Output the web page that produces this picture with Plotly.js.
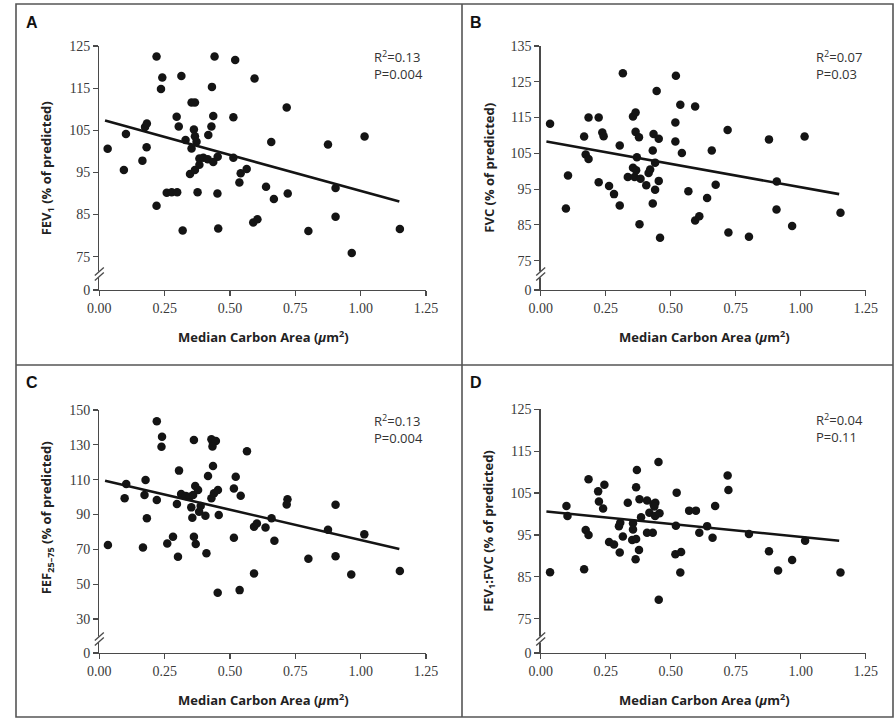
<!DOCTYPE html>
<html>
<head>
<meta charset="utf-8">
<script src="https://cdn.plot.ly/plotly-3.0.1.min.js"></script>
<style>html,body{margin:0;padding:0;background:#fff;}#chart{width:896px;height:719px;}</style>
</head>
<body>
<div id="chart"></div>
<script>
// ---------- DATA ----------
const carbonA = [0.032,0.094,0.102,0.165,0.175,0.182,0.181,0.219,0.219,0.241,0.236,0.258,0.277,0.298,0.314,0.296,0.304,0.319,0.330,0.353,0.366,0.362,0.366,0.372,0.353,0.347,0.366,0.383,0.383,0.398,0.415,0.417,0.429,0.436,0.431,0.441,0.436,0.453,0.376,0.452,0.455,0.520,0.513,0.513,0.536,0.541,0.564,0.594,0.589,0.605,0.717,0.658,0.875,1.015,0.638,0.668,0.721,0.904,0.904,0.800,1.150,0.966];
const fev1 = [100.6,95.6,104.1,97.8,105.8,106.6,101.0,122.5,87.1,117.5,114.8,90.2,90.3,90.3,117.9,108.2,105.9,81.2,102.7,111.6,111.6,105.2,103.6,102.3,100.7,94.6,95.6,96.8,98.3,98.5,98.1,103.9,105.9,108.4,115.3,122.5,97.5,98.7,90.3,90.0,81.7,121.7,108.1,98.5,92.6,94.8,95.8,117.3,83.1,83.9,110.4,102.2,101.6,103.5,91.6,88.7,90.0,91.3,84.5,81.1,81.6,75.9];

const carbonB = [0.036,0.105,0.097,0.167,0.184,0.173,0.184,0.223,0.237,0.242,0.223,0.263,0.282,0.304,0.304,0.316,0.335,0.355,0.361,0.367,0.370,0.355,0.365,0.365,0.378,0.380,0.384,0.406,0.415,0.421,0.431,0.431,0.434,0.440,0.440,0.446,0.454,0.454,0.459,0.520,0.518,0.518,0.537,0.543,0.568,0.594,0.594,0.610,0.719,0.878,1.015,0.658,0.673,0.640,0.722,0.801,0.908,0.907,0.967,1.153];
const fvc = [113.3,98.8,89.6,109.7,115.0,104.7,103.4,115.0,110.8,109.8,96.9,95.9,93.6,90.4,107.2,127.4,98.4,101.0,98.4,100.3,103.9,115.3,116.4,111.0,109.5,85.2,97.9,96.1,99.5,100.5,91.0,105.8,110.4,102.4,94.8,122.4,109.1,97.3,81.4,126.7,113.6,108.3,118.6,105.1,94.4,118.1,86.2,87.4,111.5,108.9,109.7,105.8,96.2,92.5,82.9,81.7,97.1,89.3,84.7,88.4];

const carbonC = [0.033,0.097,0.103,0.167,0.173,0.177,0.182,0.220,0.220,0.240,0.238,0.260,0.282,0.297,0.301,0.305,0.313,0.331,0.346,0.359,0.352,0.356,0.362,0.362,0.369,0.367,0.378,0.382,0.388,0.406,0.410,0.416,0.429,0.435,0.446,0.433,0.435,0.429,0.439,0.454,0.457,0.453,0.515,0.522,0.515,0.541,0.537,0.565,0.592,0.592,0.603,0.720,0.717,0.659,0.636,0.670,0.800,0.875,0.904,0.904,0.964,1.014,1.150];
const fef2575 = [72.5,99.3,107.5,71.1,101.2,109.8,87.8,98.3,143.5,134.7,128.9,73.4,77.3,96.0,65.8,115.2,101.8,100.6,100.2,101.2,94.1,88.2,132.8,77.3,73.1,106.4,104.1,91.6,94.9,89.3,67.7,112.1,133.2,131.2,132.2,129.0,117.8,99.3,102.2,104.1,89.7,45.1,105.0,111.7,76.7,100.8,46.6,126.3,56.2,83.0,84.9,98.7,95.8,87.8,82.6,75.0,64.6,81.3,95.6,66.0,55.6,78.6,57.6];

const carbonD = [0.036,0.099,0.103,0.167,0.173,0.184,0.184,0.221,0.224,0.240,0.245,0.263,0.282,0.301,0.304,0.306,0.316,0.335,0.355,0.355,0.352,0.367,0.365,0.378,0.367,0.370,0.380,0.386,0.409,0.409,0.418,0.431,0.434,0.441,0.437,0.440,0.457,0.453,0.454,0.520,0.523,0.518,0.540,0.537,0.571,0.597,0.610,0.719,0.722,0.671,0.640,0.661,0.801,0.878,0.913,0.967,1.017,1.153];
const fev1fvc = [86.1,101.9,99.5,86.8,96.2,95.0,108.3,105.4,103.0,101.3,107.0,93.3,92.7,97.1,90.8,97.9,94.6,102.7,97.8,96.3,93.8,94.0,89.2,91.4,106.4,110.5,103.5,99.2,95.5,103.2,100.3,95.5,102.4,102.7,101.8,99.5,100.2,112.4,79.5,97.2,105.1,90.4,90.9,86.0,100.8,100.8,95.5,109.2,105.7,101.9,97.1,94.3,95.2,91.1,86.5,89.0,93.6,86.0];

// regression lines (end points)
const trendX = [0.022, 1.148];
const trendA = [107.3, 88.1];
const trendB = [108.3, 93.6];
const trendC = [109.4, 70.2];
const trendD = [100.6, 93.6];

// tick labels
const xTickVals = [0, 0.25, 0.5, 0.75, 1.0, 1.25];
const xTickText = ["0.00","0.25","0.50","0.75","1.00","1.25"];
const yTickTextA = ["0","75","85","95","105","115","125"];
const yTickTextB = ["0","75","85","95","105","115","125","135"];
const yTickTextC = ["0","30","50","70","90","110","130","150"];
const yTickTextD = ["0","75","85","95","105","115","125"];

const panelLetters = ["A","B","C","D"];
const yTitles = ["FEV<sub>1</sub> (% of predicted)","FVC (% of predicted)","FEF<sub>25–75</sub> (% of predicted)","FEV<sub>1</sub>:FVC (% of predicted)"];
const xTitle = "Median Carbon Area (<i>μ</i>m<sup>2</sup>)";
const statR2 = ["R<sup>2</sup>=0.13","R<sup>2</sup>=0.07","R<sup>2</sup>=0.13","R<sup>2</sup>=0.04"];
const statP = ["P=0.004","P=0.03","P=0.004","P=0.11"];

// ---------- LAYOUT HELPERS ----------
const W = 896, H = 719;
const px = v => v / W;
const py = v => 1 - v / H;
const dX = (a, b) => [px(a), px(b)];
const dY = (top, bottom) => [py(bottom), py(top)];

const tickFont = {family: "Liberation Serif, serif", size: 14, color: "#3a3a3a"};
const lineCol = "#4a4a4a";
const dotCol = "#141414";

// panel geometry (px)
const P = [
  {x0: 99.3, x1: 426, top: 46, bot: 290, yr: [67.1,125], yt: [67.1,75,85,95,105,115,125], ytt: yTickTextA},
  {x0: 540.7, x1: 865.7, top: 46, bot: 290, yr: [66.8,135], yt: [66.8,75,85,95,105,115,125,135], ytt: yTickTextB},
  {x0: 99.3, x1: 426, top: 410, bot: 653, yr: [10.5,150], yt: [10.5,30,50,70,90,110,130,150], ytt: yTickTextC},
  {x0: 540.7, x1: 865.7, top: 409.3, bot: 653, yr: [66.8,125], yt: [66.8,75,85,95,105,115,125], ytt: yTickTextD}
];
const xs = [carbonA, carbonB, carbonC, carbonD];
const ys = [fev1, fvc, fef2575, fev1fvc];
const trends = [trendA, trendB, trendC, trendD];

const traces = [];
const layout = {
  width: W, height: H,
  margin: {l: 0, r: 0, t: 0, b: 0},
  paper_bgcolor: "#fff", plot_bgcolor: "#fff",
  showlegend: false,
  shapes: [], annotations: []
};

P.forEach((p, i) => {
  const n = i === 0 ? "" : String(i + 1);
  const xa = "x" + n, ya = "y" + n;
  traces.push({
    type: "scatter", mode: "markers", x: xs[i], y: ys[i], xaxis: xa, yaxis: ya,
    marker: {size: 8.5, color: dotCol}, hoverinfo: "x+y", cliponaxis: false
  });
  traces.push({
    type: "scatter", mode: "lines", x: trendX, y: trends[i], xaxis: xa, yaxis: ya,
    line: {color: dotCol, width: 2.6}, hoverinfo: "skip"
  });
  layout["xaxis" + n] = {
    domain: dX(p.x0, p.x1), anchor: ya, range: [0, 1.25],
    tickvals: xTickVals, ticktext: xTickText, tickfont: tickFont,
    ticks: "outside", ticklen: 5, tickwidth: 1.2, tickcolor: lineCol,
    showline: true, linecolor: lineCol, linewidth: 1.3,
    showgrid: false, zeroline: false, fixedrange: true
  };
  layout["yaxis" + n] = {
    domain: dY(p.top, p.bot), anchor: xa, range: p.yr,
    tickvals: p.yt, ticktext: p.ytt, tickfont: tickFont,
    ticks: "outside", ticklen: 5, tickwidth: 1.2, tickcolor: lineCol,
    showline: true, linecolor: lineCol, linewidth: 1.3,
    showgrid: false, zeroline: false, fixedrange: true
  };
  // axis titles
  const cx = (p.x0 + p.x1) / 2;
  layout.annotations.push({
    xref: "paper", yref: "paper", x: px(cx + 1), y: py(p.bot + 46.5), text: xTitle,
    showarrow: false, xanchor: "center", yanchor: "middle",
    font: {family: "Open Sans, sans-serif", size: 13, color: "#222", weight: 700}
  });
  const ytc = i === 2 ? 518 : (p.top + p.bot) / 2;
  layout.annotations.push({
    xref: "paper", yref: "paper", x: px(p.x0 - 52), y: py(ytc), text: yTitles[i],
    showarrow: false, textangle: -90, xanchor: "center", yanchor: "middle",
    font: {family: "Open Sans, sans-serif", size: 13, color: "#222", weight: 700}
  });
  // stats (two lines in one text block)
  layout.annotations.push({
    xref: "paper", yref: "paper", x: px(p.x0 + 273), y: py(p.top + 19), text: statR2[i] + "<br>" + statP[i],
    showarrow: false, xanchor: "left", yanchor: "middle", align: "left",
    font: {family: "Open Sans, sans-serif", size: 13, color: "#333"}
  });
  // panel letter
  const lx = i % 2 === 0 ? 32 : 476;
  const ly = i < 2 ? 22 : 382;
  layout.annotations.push({
    xref: "paper", yref: "paper", x: px(lx), y: py(ly), text: "<b>" + panelLetters[i] + "</b>",
    showarrow: false, xanchor: "center", yanchor: "middle",
    font: {family: "Liberation Sans, Arial, sans-serif", size: 16, color: "#111"}
  });
  // axis break marks
  const bx = p.x0;
  const byc = i < 2 ? 275 : 640;
  layout.shapes.push({type: "rect", xref: "paper", yref: "paper",
    x0: px(bx - 2.5), x1: px(bx + 2.5), y0: py(byc - 3.5), y1: py(byc + 2.5),
    fillcolor: "#fff", line: {width: 0}, layer: "above"});
  layout.shapes.push({type: "line", xref: "paper", yref: "paper",
    x0: px(bx - 4.5), y0: py(byc + 0.5), x1: px(bx + 4.5), y1: py(byc - 7.5),
    line: {color: lineCol, width: 1.3}, layer: "above"});
  layout.shapes.push({type: "line", xref: "paper", yref: "paper",
    x0: px(bx - 4.5), y0: py(byc + 5.5), x1: px(bx + 4.5), y1: py(byc - 2.5),
    line: {color: lineCol, width: 1.3}, layer: "above"});
});

// frame and dividers
layout.shapes.push({type: "rect", xref: "paper", yref: "paper",
  x0: px(16), x1: px(893), y0: py(717), y1: py(4),
  line: {color: "#555", width: 1.6}, layer: "above"});
layout.shapes.push({type: "line", xref: "paper", yref: "paper",
  x0: px(462), x1: px(462), y0: py(717), y1: py(4),
  line: {color: "#555", width: 1.6}, layer: "above"});
layout.shapes.push({type: "line", xref: "paper", yref: "paper",
  x0: px(16), x1: px(893), y0: py(365), y1: py(365),
  line: {color: "#555", width: 1.6}, layer: "above"});

Plotly.newPlot("chart", traces, layout, {displayModeBar: false, staticPlot: true});
</script>
</body>
</html>
